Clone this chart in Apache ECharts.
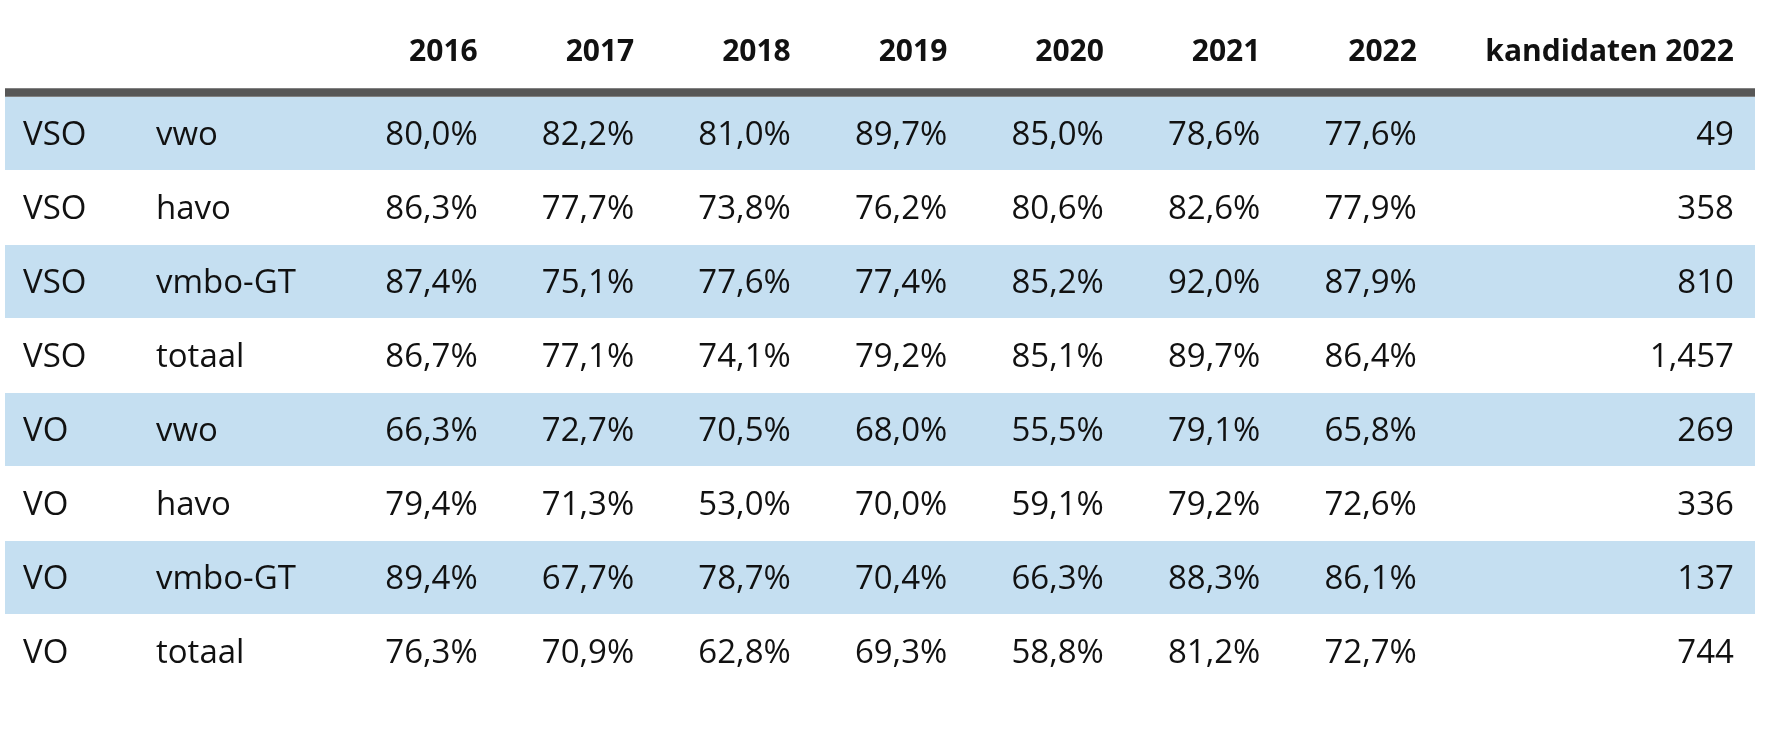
<!DOCTYPE html>
<html>
<head>
<meta charset="utf-8">
<script src="https://cdn.jsdelivr.net/npm/echarts@6/dist/echarts.min.js"></script>
<style>
  html, body { margin: 0; padding: 0; background: #ffffff; }
  #chart { width: 1772px; height: 734px; }
</style>
</head>
<body>
<div id="chart"></div>
<script>
// ---- data ----
const headerLabels = ['2016', '2017', '2018', '2019', '2020', '2021', '2022', 'kandidaten 2022'];
const schoolTypes = ['VSO', 'VSO', 'VSO', 'VSO', 'VO', 'VO', 'VO', 'VO'];
const levels = ['vwo', 'havo', 'vmbo-GT', 'totaal', 'vwo', 'havo', 'vmbo-GT', 'totaal'];

const vsoVwo    = [80.0, 82.2, 81.0, 89.7, 85.0, 78.6, 77.6];
const vsoHavo   = [86.3, 77.7, 73.8, 76.2, 80.6, 82.6, 77.9];
const vsoVmbo   = [87.4, 75.1, 77.6, 77.4, 85.2, 92.0, 87.9];
const vsoTotaal = [86.7, 77.1, 74.1, 79.2, 85.1, 89.7, 86.4];
const voVwo     = [66.3, 72.7, 70.5, 68.0, 55.5, 79.1, 65.8];
const voHavo    = [79.4, 71.3, 53.0, 70.0, 59.1, 79.2, 72.6];
const voVmbo    = [89.4, 67.7, 78.7, 70.4, 66.3, 88.3, 86.1];
const voTotaal  = [76.3, 70.9, 62.8, 69.3, 58.8, 81.2, 72.7];
const candidates2022 = [49, 358, 810, 1457, 269, 336, 137, 744];

const rowValues = [vsoVwo, vsoHavo, vsoVmbo, vsoTotaal, voVwo, voHavo, voVmbo, voTotaal];

// ---- layout helpers ----
const X_MIN = -3.02, X_MAX = 8.16;
const CAND_COL = 8.025;
const FONT = '"Open Sans", "Noto Sans", sans-serif';
const TEXT_COLOR = '#111111';
const BAND_COLOR = '#c5dff1';

const rowIdx = schoolTypes.map((_, i) => i);
const colPositions = headerLabels.map((_, i) => (i < 7 ? i : CAND_COL));

function pct(v) { return v.toFixed(1).replace('.', ',') + '%'; }
function thousands(v) { return String(v).replace(/\B(?=(\d{3})+(?!\d))/g, ','); }

// cells: [x, row, text]
const cells = [];
rowValues.forEach((vals, r) => {
  vals.forEach((v, c) => cells.push([c, r, pct(v)]));
  cells.push([CAND_COL, r, thousands(candidates2022[r])]);
});
const rowLabelCells = [];
rowIdx.forEach(r => {
  rowLabelCells.push([X_MIN, r, schoolTypes[r], 18]);
  rowLabelCells.push([X_MIN, r, levels[r], 151]);
});
const bandRows = rowIdx.filter(r => r % 2 === 0).map(r => [X_MIN, r]);

const chart = echarts.init(document.getElementById('chart'), null, { renderer: 'canvas' });
chart.setOption({
  animation: false,
  backgroundColor: '#ffffff',
  grid: { left: 5, right: 17, top: 97, bottom: 45, containLabel: false },
  xAxis: {
    type: 'value',
    position: 'top',
    min: X_MIN,
    max: X_MAX,
    offset: 4.5,
    splitLine: { show: false },
    axisTick: { show: false },
    axisLine: { show: true, onZero: false, lineStyle: { color: '#575757', width: 8.5, cap: 'butt' } },
    axisLabel: {
      show: true,
      customValues: colPositions,
      formatter: function (value) {
        const i = colPositions.findIndex(p => Math.abs(p - value) < 1e-6);
        return i >= 0 ? headerLabels[i] : '';
      },
      align: 'right',
      verticalAlign: 'middle',
      margin: 40,
      fontFamily: FONT,
      fontWeight: 'bold',
      fontSize: 30,
      color: TEXT_COLOR,
      showMinLabel: true,
      showMaxLabel: true
    }
  },
  yAxis: {
    type: 'category',
    inverse: true,
    data: rowIdx.map(String),
    show: false
  },
  series: [
    {
      type: 'custom',
      silent: true,
      data: bandRows,
      renderItem: function (params, api) {
        const p = api.coord([api.value(0), api.value(1)]);
        const h = api.size([0, 1])[1];
        return {
          type: 'rect',
          shape: { x: params.coordSys.x, y: p[1] - h / 2, width: params.coordSys.width, height: h - 1 },
          style: { fill: BAND_COLOR }
        };
      },
      z: 1
    },
    {
      type: 'custom',
      silent: true,
      data: cells.map(c => [c[0], c[1]]),
      renderItem: function (params, api) {
        const p = api.coord([api.value(0), api.value(1)]);
        return {
          type: 'text',
          x: p[0],
          y: p[1] + 2,
          style: {
            text: cells[params.dataIndex][2],
            align: 'right',
            verticalAlign: 'middle',
            font: '33px ' + FONT,
            fill: TEXT_COLOR
          }
        };
      },
      z: 3
    },
    {
      type: 'custom',
      silent: true,
      data: rowLabelCells.map(c => [c[0], c[1]]),
      renderItem: function (params, api) {
        const p = api.coord([api.value(0), api.value(1)]);
        const item = rowLabelCells[params.dataIndex];
        return {
          type: 'text',
          x: p[0] + item[3],
          y: p[1] + 2,
          style: {
            text: item[2],
            align: 'left',
            verticalAlign: 'middle',
            font: '33px ' + FONT,
            fill: TEXT_COLOR
          }
        };
      },
      z: 3
    }
  ]
});
</script>
</body>
</html>
